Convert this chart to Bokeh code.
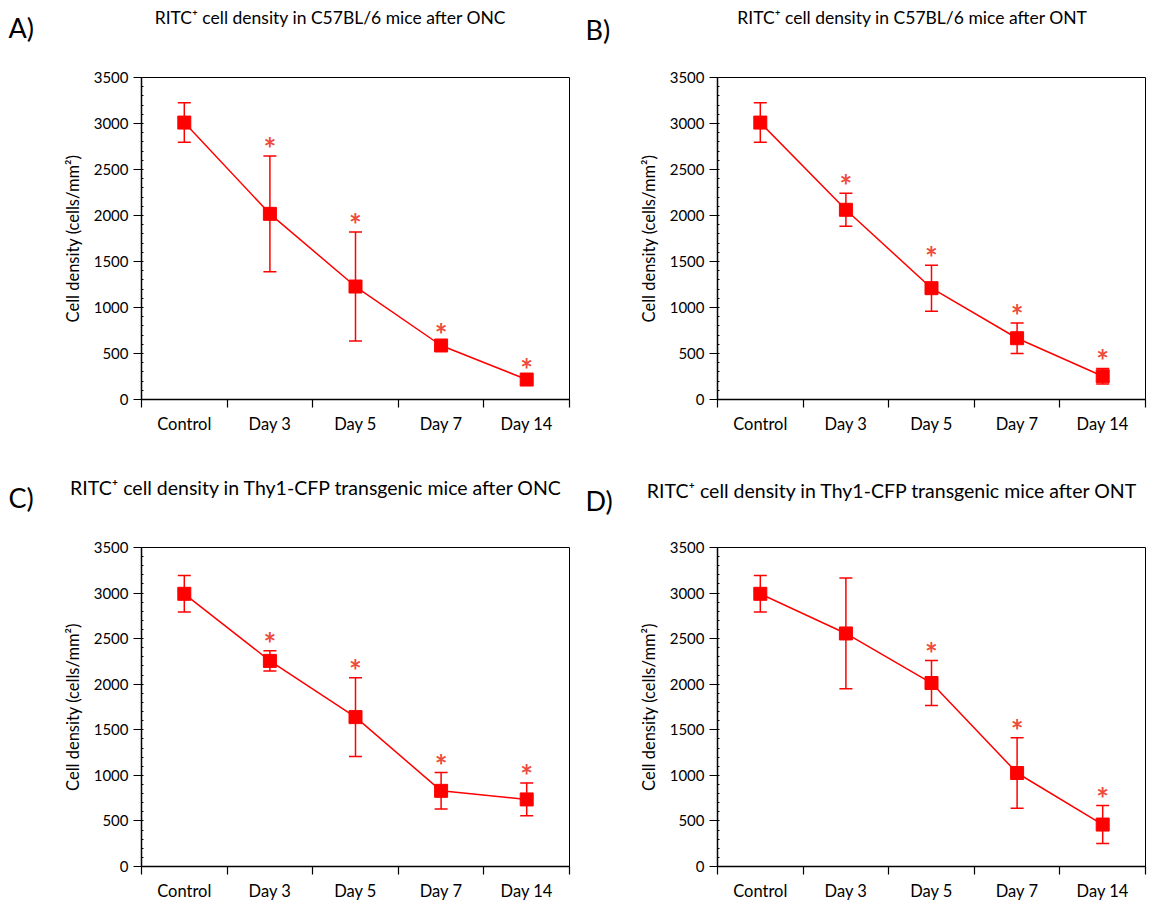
from bokeh.plotting import figure
from bokeh.models import FixedTicker, SingleIntervalTicker, ColumnDataSource, Whisker, TeeHead
from bokeh.layouts import column, row
from bokeh.embed import file_html
from bokeh.resources import INLINE
from bokeh.core.properties import value

categories = ["Control", "Day 3", "Day 5", "Day 7", "Day 14"]

a_mean = [3010, 2018, 1228, 587, 217]
a_err = [215, 630, 592, 40, 30]
a_sig = [False, True, True, True, True]

b_mean = [3010, 2062, 1210, 666, 253]
b_err = [215, 180, 250, 165, 85]
b_sig = [False, True, True, True, True]

c_mean = [2992, 2256, 1639, 830, 736]
c_err = [200, 110, 432, 200, 180]
c_sig = [False, True, True, True, True]

d_mean = [2992, 2557, 2013, 1026, 460]
d_err = [200, 607, 247, 386, 208]
d_sig = [False, False, True, True, True]

titles = [
    "RITC\u207a cell density in C57BL/6 mice after ONC",
    "RITC\u207a cell density in C57BL/6 mice after ONT",
    "RITC\u207a cell density in Thy1-CFP transgenic mice after ONC",
    "RITC\u207a cell density in Thy1-CFP transgenic mice after ONT",
]
letters = ["A)", "B)", "C)", "D)"]
y_label = "Cell density (cells/mm\u00b2)"

FONT = "Lato"
RED = "#ff0000"
STAR = "#ee4b3b"


def header(title, letter, width, height, title_cx, title_cy, title_size,
           letter_x, letter_cy):
    h = figure(width=width, height=height, x_range=(0, width), y_range=(height, 0),
               output_backend="svg", toolbar_location=None, min_border=0)
    h.axis.visible = False
    h.grid.visible = False
    h.outline_line_color = None
    src_t = ColumnDataSource(dict(x=[title_cx], y=[title_cy], t=[title]))
    h.text("x", "y", text="t", source=src_t, text_font=value(FONT),
           text_font_size=title_size, text_align="center", text_baseline="middle",
           text_color="black")
    src_l = ColumnDataSource(dict(x=[letter_x], y=[letter_cy], t=[letter]))
    h.text("x", "y", text="t", source=src_l, text_font=value(FONT),
           text_font_size="27px", text_align="left", text_baseline="middle",
           text_color="black")
    return h


def panel(mean, err, sig, width, height, lb, rb, tb, bb):
    p = figure(width=width, height=height, x_range=(0, 5), y_range=(0, 3500),
               output_backend="svg", toolbar_location=None,
               min_border_left=lb, min_border_right=rb,
               min_border_top=tb, min_border_bottom=bb)
    p.xgrid.visible = False
    p.ygrid.visible = False
    p.outline_line_color = "black"
    p.outline_line_width = 1
    p.background_fill_color = "white"
    p.border_fill_color = "white"

    n = len(categories)
    xs = [i + 0.5 for i in range(n)]

    xa = p.xaxis[0]
    xa.ticker = FixedTicker(ticks=xs, minor_ticks=list(range(n + 1)))
    xa.major_label_overrides = {x: c for x, c in zip(xs, categories)}
    xa.major_tick_out = 0
    xa.major_tick_in = 0
    xa.minor_tick_out = 8
    xa.minor_tick_in = 0
    xa.axis_line_width = 1.5
    xa.minor_tick_line_width = 1.2
    xa.major_label_text_font = FONT
    xa.major_label_text_font_size = "16.5px"
    xa.major_label_text_color = "black"
    xa.major_label_standoff = 6

    ya = p.yaxis[0]
    ya.ticker = SingleIntervalTicker(interval=500, num_minor_ticks=5)
    ya.major_tick_out = 8
    ya.major_tick_in = 0
    ya.minor_tick_out = 0
    ya.minor_tick_in = 2
    ya.axis_line_width = 1.5
    ya.major_tick_line_width = 1.2
    ya.major_label_text_font = FONT
    ya.major_label_text_font_size = "15px"
    ya.major_label_text_color = "black"
    ya.major_label_standoff = 5
    ya.axis_label = y_label
    ya.axis_label_text_font = FONT
    ya.axis_label_text_font_size = "16.5px"
    ya.axis_label_text_font_style = "normal"
    ya.axis_label_text_color = "black"
    ya.axis_label_standoff = 8

    upper = [m + e for m, e in zip(mean, err)]
    lower = [m - e for m, e in zip(mean, err)]
    src = ColumnDataSource(dict(x=xs, m=mean, up=upper, lo=lower))

    p.line("x", "m", source=src, line_color=RED, line_width=1.5)
    w = Whisker(base="x", upper="up", lower="lo", source=src, dimension="height",
                line_color=RED, line_width=1.5,
                upper_head=TeeHead(size=13, line_color=RED, line_width=1.5),
                lower_head=TeeHead(size=13, line_color=RED, line_width=1.5),
                level="glyph")
    p.add_layout(w)
    p.scatter("x", "m", source=src, marker="square", size=13,
              fill_color=RED, line_color=RED)

    sx = [x for x, s in zip(xs, sig) if s]
    sy = [u for u, s in zip(upper, sig) if s]
    st = ["*" for s in sig if s]
    ssrc = ColumnDataSource(dict(x=sx, y=sy, t=st))
    p.text("x", "y", text="t", source=ssrc, text_font=value(FONT),
           text_font_size="30px", text_font_style="bold", text_color=STAR,
           text_align="center", text_baseline="alphabetic", y_offset=-8)
    return p


ha = header(titles[0], letters[0], 577, 50, 330, 17, "17.5px", 8, 27)
hb = header(titles[1], letters[1], 578, 50, 335, 17, "17.5px", 8, 29)
hc = header(titles[2], letters[2], 577, 60, 316, 25, "19.5px", 8, 35)
hd = header(titles[3], letters[3], 578, 60, 315, 28, "19.5px", 8, 38)

pa = panel(a_mean, a_err, a_sig, 577, 412, 141, 8, 27, 63)
pb = panel(b_mean, b_err, b_sig, 578, 412, 140, 10, 27, 63)
pc = panel(c_mean, c_err, c_sig, 577, 381, 141, 8, 25, 34)
pd = panel(d_mean, d_err, d_sig, 578, 381, 140, 10, 25, 34)

layout = column(row(ha, hb), row(pa, pb), row(hc, hd), row(pc, pd))

open("out.html", "w").write(file_html(layout, INLINE))
